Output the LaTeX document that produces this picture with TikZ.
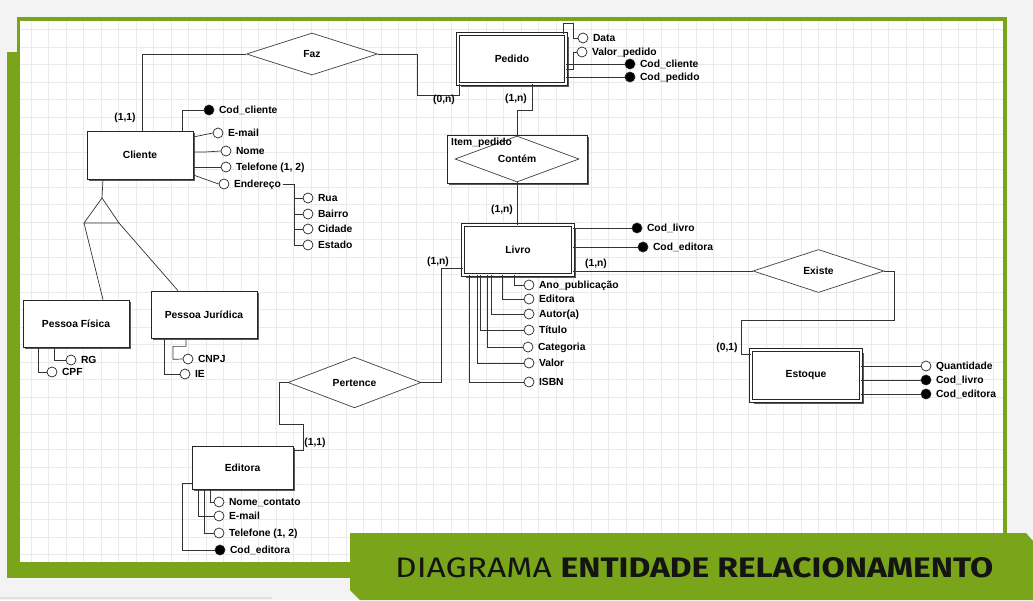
\documentclass[tikz,border=0pt]{standalone}
\usepackage{graphicx}
\usepackage{fontspec}
\setmainfont{Liberation Sans}
\newfontfamily\titlefont{Fira Sans}
\usetikzlibrary{shapes.geometric,shadows}
\definecolor{frameGreen}{HTML}{7AA51A}
\definecolor{bgGray}{HTML}{F3F3F3}
\definecolor{gridGray}{HTML}{EAEAEA}
\newcommand\myattr[4]{\node[#2] (#1) at (#3) {}; \node[lab] (#1-t) at ([xshift=4.5pt]#1.east) {#4};}
\begin{document}
\begin{tikzpicture}[x=1pt,y=-1pt,
  font=\fontsize{10.3}{12}\selectfont\bfseries,
  ent/.style={draw=black!85, line width=0.7pt, fill=white, inner sep=0pt,
    drop shadow={shadow xshift=2pt,shadow yshift=-2pt,fill=black!65,opacity=1}},
  weakent/.style={draw=black!85, line width=0.7pt, fill=white, inner sep=0pt,
    double=white, double distance=2.6pt,
    drop shadow={shadow xshift=3pt,shadow yshift=-3pt,fill=black!65,opacity=1}},
  rel/.style={diamond, draw=black!75, line width=0.7pt, fill=white, inner sep=0pt},
  attO/.style={circle, draw=black!85, line width=0.7pt, fill=white, minimum size=10pt, inner sep=0pt},
  attK/.style={attO, fill=black},
  lab/.style={anchor=west, inner sep=0pt, text height=7.4pt, text depth=0pt},
  card/.style={inner sep=0pt, text height=7.4pt, text depth=0pt},
  conn/.style={draw=black!80, line width=0.7pt}
]
% background and frame
\fill[bgGray] (0,0) rectangle (1033,600);
\useasboundingbox (0,0) rectangle (1033,600);
\draw[black!12, line width=1.5pt] (0,598) -- (272,598);
\fill[frameGreen] (7,52) rectangle (1003,578);
\fill[frameGreen] (17,17) rectangle (1007,565);
\fill[white] (20,21) rectangle (1003,562);
\begin{scope}
  \clip (20,21) rectangle (1003,562);
  \foreach \i in {0,...,57} \draw[gridGray, line width=0.6pt] (13.3+17.5*\i,21) -- ++(0,541);
  \foreach \j in {0,...,31} \draw[gridGray, line width=0.6pt] (20,29.3+17.5*\j) -- ++(983,0);
\end{scope}

% entities
\node[ent, minimum width=106pt, minimum height=48pt] (cliente) at (140,155) {Cliente};
\node[weakent, minimum width=108pt, minimum height=50pt] (pedido) at (512,59) {Pedido};
\node[ent, minimum width=140pt, minimum height=48pt] (item) at (517,159) {};
\node[rel, minimum width=124pt, minimum height=33pt] (contem) at (517,159) {Contém};
\node[weakent, minimum width=110pt, minimum height=50pt] (livro) at (518,250) {Livro};
\node[weakent, minimum width=110pt, minimum height=51pt] (estoque) at (806,375.5) {Estoque};
\node[ent, minimum width=101pt, minimum height=43pt] (editora) at (242.5,467.5) {Editora};
\node[ent, minimum width=106pt, minimum height=47pt] (pf) at (76,323.5) {Pessoa Física};
\node[ent, minimum width=106pt, minimum height=47pt] (pj) at (204,314.5) {Pessoa Jurídica};

% relationships
\node[rel, minimum width=131pt, minimum height=42pt] (faz) at (312,54) {Faz};
\node[rel, minimum width=131pt, minimum height=43pt] (existe) at (818.5,271) {Existe};
\node[rel, minimum width=133pt, minimum height=41pt] (pertence) at (354.5,382.5) {Pertence};

% specialization triangle
\coordinate (apex) at (102,198);
\coordinate (tl) at (84,223);
\coordinate (tr) at (119,223);
\draw[conn] (apex) -- (tl) -- (tr) -- cycle;
\draw[conn] ([xshift=-37pt]cliente.south) -- (apex);
\draw[conn] (tl) -- ([xshift=27pt]pf.north);
\draw[conn] (tr) -- ([xshift=-26pt]pj.north);

% relationship connectors
\draw[conn] ([xshift=2pt]cliente.north) |- (faz.west);
\draw[conn] (faz.east) -| (417,95) -| ([xshift=2pt]pedido.south west);
\draw[conn] ([xshift=20pt]pedido.south) -- ++(0,26) -| (contem.north);
\draw[conn] (contem.south) -- (contem.south |- livro.north);
\draw[conn] ([yshift=-21pt]livro.east) -- (existe.west);
\draw[conn] (existe.east) -| (894,320) -| (741,354) -- ([yshift=21.5pt]estoque.west);
\draw[conn] ([yshift=-18pt]livro.west) -| (441,382.5) -- (pertence.east);
\draw[conn] (pertence.west) -| (279,424) -| (303,450) -- ([yshift=17.5pt]editora.east);

\node[lab] (itemt) at (451,142) {Item\_pedido};

% cardinalities
\node[card] (c1) at (125,117) {(1,1)};
\node[card] (c2) at (444,99) {(0,n)};
\node[card] (c3) at (516,98) {(1,n)};
\node[card] (c4) at (502,209) {(1,n)};
\node[card] (c5) at (596,263) {(1,n)};
\node[card] (c6) at (438,261) {(1,n)};
\node[card] (c7) at (727,347) {(0,1)};
\node[card] (c8) at (315,442) {(1,1)};

% Cliente attributes
\myattr{cc}{attK}{209,110}{Cod\_cliente}
\myattr{cem}{attO}{218,133}{E-mail}
\myattr{cno}{attO}{226,151}{Nome}
\myattr{cte}{attO}{226,167}{Telefone (1, 2)}
\myattr{cen}{attO}{224,184}{Endereço}
\myattr{rua}{attO}{308,198}{Rua}
\myattr{bai}{attO}{308,214}{Bairro}
\myattr{cid}{attO}{308,229}{Cidade}
\myattr{est}{attO}{308,245}{Estado}
\draw[conn] ([xshift=42pt]cliente.north) |- (cc.west);
\draw[conn] ([yshift=18pt]cliente.east) -- (cem.west);
\draw[conn] ([yshift=3pt]cliente.east) -- ++(12,0) -- (cno.west);
\draw[conn] ([yshift=-12pt]cliente.east) -- (cte.west);
\draw[conn] ([yshift=-20pt]cliente.east) -- (cen.west);
\coordinate (ebar) at (294,184);
\draw[conn] ([xshift=2pt]cen-t.east) -- (ebar) |- (est.west);
\foreach \a in {rua,bai,cid} \draw[conn] (ebar) |- (\a.west);

% Pedido attributes
\myattr{pda}{attO}{583,38}{Data}
\myattr{pva}{attO}{582,52}{Valor\_pedido}
\myattr{pcc}{attK}{630,64}{Cod\_cliente}
\myattr{pcp}{attK}{630,77}{Cod\_pedido}
\draw[conn] ([xshift=51pt]pedido.north) |- (573,23) |- (pda.west);
\draw[conn] ([yshift=-10pt]pedido.east) -- ++(7,0) |- (pva.west);
\draw[conn] ([yshift=-5pt]pedido.east) -- (pcc.west);
\draw[conn] ([yshift=-18pt]pedido.east) -- (pcp.west);

% Livro attributes
\myattr{lcl}{attK}{637,228}{Cod\_livro}
\myattr{lce}{attK}{643,247}{Cod\_editora}
\myattr{lan}{attO}{529,285}{Ano\_publicação}
\myattr{led}{attO}{529,299}{Editora}
\myattr{lau}{attO}{529,314}{Autor(a)}
\myattr{lti}{attO}{529,330}{Título}
\myattr{lca}{attO}{528,347}{Categoria}
\myattr{lva}{attO}{529,363}{Valor}
\myattr{lis}{attO}{529,382}{ISBN}
\draw[conn] ([yshift=22pt]livro.east) -- (lcl.west);
\draw[conn] ([yshift=3pt]livro.east) -- (lce.west);
\draw[conn] ([xshift=-4pt]livro.south) |- (lan.west);
\draw[conn] ([xshift=-16pt]livro.south) |- (led.west);
\draw[conn] ([xshift=-27pt]livro.south) |- (lau.west);
\draw[conn] ([xshift=-38pt]livro.south) |- (lti.west);
\draw[conn] ([xshift=-31pt]livro.south) |- (lca.west);
\draw[conn] ([xshift=-41pt]livro.south) |- (lva.west);
\draw[conn] ([xshift=-49pt]livro.south) |- (lis.west);

% Estoque attributes
\myattr{eq}{attO}{926,366}{Quantidade}
\myattr{ecl}{attK}{926,380}{Cod\_livro}
\myattr{ece}{attK}{926,394}{Cod\_editora}
\draw[conn] ([yshift=9.5pt]estoque.east) -- (eq.west);
\draw[conn] ([yshift=-4.5pt]estoque.east) -- (ecl.west);
\draw[conn] ([yshift=-18.5pt]estoque.east) -- (ece.west);

% Editora attributes
\myattr{enc}{attO}{219,502}{Nome\_contato}
\myattr{eem}{attO}{219,516}{E-mail}
\myattr{ete}{attO}{219,533}{Telefone (1, 2)}
\myattr{ecd}{attK}{220,550}{Cod\_editora}
\draw[conn] ([xshift=-32pt]editora.south) |- (enc.west);
\draw[conn] ([xshift=-44pt]editora.south) |- (eem.west);
\draw[conn] ([xshift=-38pt]editora.south) |- (ete.west);
\draw[conn] ([yshift=-15.5pt]editora.west) -- ++(-9,0) |- (ecd.west);

% Pessoa Fisica / Juridica attributes
\myattr{rg}{attO}{71,360}{RG}
\myattr{cpf}{attO}{52,372}{CPF}
\myattr{cnpj}{attO}{188,359}{CNPJ}
\myattr{ie}{attO}{185,374}{IE}
\draw[conn] ([xshift=-22pt]pf.south) |- (rg.west);
\draw[conn] ([xshift=-38pt]pf.south) |- (cpf.west);
\draw[conn] ([xshift=-18pt]pj.south) -- ++(0,8) -| ++(-13,13) -- (cnpj.west);
\draw[conn] ([xshift=-40pt]pj.south) |- (ie.west);

% title banner
\fill[frameGreen] (350,533) -- (1026,533) -- (1033,541) -- (1033,600) -- (360,600) -- (350,590) -- cycle;
\node[anchor=south west, inner sep=0pt, text=black!92] (title) at (395,578)
  {\resizebox{598pt}{20pt}{\titlefont\mdseries DIAGRAMA \bfseries ENTIDADE RELACIONAMENTO}};
\end{tikzpicture}
\end{document}
